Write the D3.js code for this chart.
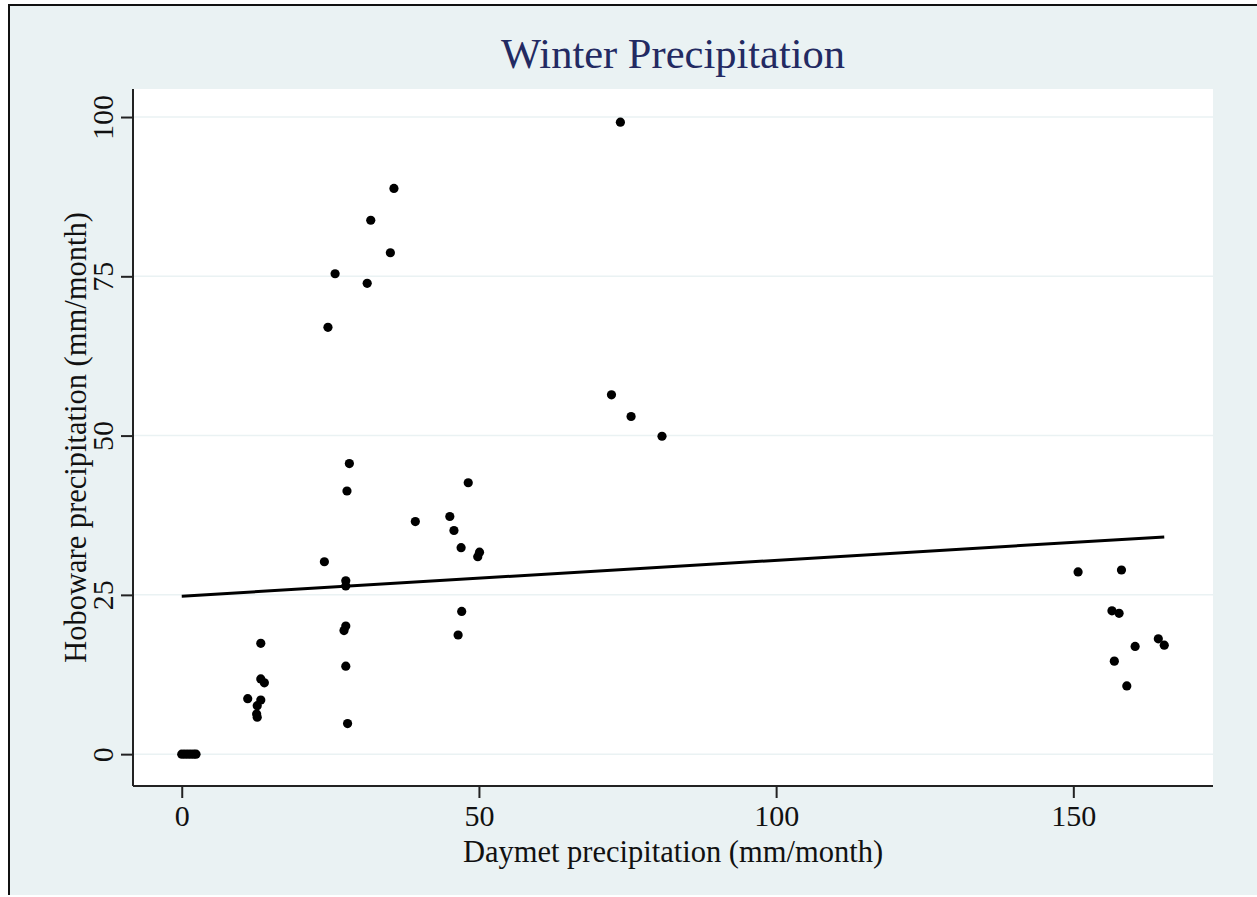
<!DOCTYPE html>
<html>
<head>
<meta charset="utf-8">
<script src="https://cdn.jsdelivr.net/npm/d3@7/dist/d3.min.js"></script>
<style>
  html, body { margin: 0; padding: 0; background: #ffffff; }
  svg { display: block; }
  text { font-family: "Liberation Serif", "Times New Roman", serif; }
</style>
</head>
<body>
<svg id="chart"></svg>
<script>
  // daymet (x) vs hoboware (y)
  var daymet = [
    0, 0.5, 1, 1.5, 2, 2.4,
    11.1, 12.6, 12.7, 12.7, 13.3, 13.3, 13.3, 13.9,
    24.0, 24.6, 25.8, 27.3, 27.6, 27.6, 27.6, 27.6, 27.8, 27.9, 28.2,
    31.2, 31.8, 35.1, 35.7, 39.3,
    45.1, 45.8, 46.5, 47.0, 47.1, 48.2, 49.8, 50.1,
    72.3, 73.8, 75.6, 80.8,
    150.8, 156.5, 156.9, 157.7, 158.1, 159.0, 160.4, 164.3, 165.3
  ];
  var hoboware = [
    0, 0, 0, 0, 0, 0,
    8.7, 6.3, 5.8, 7.6, 17.4, 11.8, 8.5, 11.2,
    30.2, 67.0, 75.4, 19.4, 20.1, 13.8, 27.2, 26.4, 41.3, 4.8, 45.6,
    73.9, 83.8, 78.7, 88.8, 36.5,
    37.3, 35.1, 18.7, 32.4, 22.4, 42.6, 31.0, 31.7,
    56.4, 99.2, 53.0, 49.9,
    28.6, 22.5, 14.6, 22.1, 28.9, 10.7, 16.9, 18.1, 17.1
  ];

  // fitted line end points
  var fitX = [0, 165.3];
  var fitY = [24.8, 34.1];

  var xTicks = [0, 50, 100, 150];
  var yTicks = [0, 25, 50, 75, 100];

  var width = 1257, height = 897;
  var plot = { left: 133, top: 89, right: 1213, bottom: 786 };

  var svg = d3.select("#chart").attr("width", width).attr("height", height);

  // outer frame (only top and left edge are visible in the crop)
  svg.append("rect").attr("x", 8).attr("y", 4).attr("width", width - 8).attr("height", 891).attr("fill", "#111111");
  svg.append("rect").attr("x", 10).attr("y", 6).attr("width", width - 10).attr("height", 889).attr("fill", "#eaf2f3");

  // plot region
  svg.append("rect")
    .attr("x", plot.left).attr("y", plot.top)
    .attr("width", plot.right - plot.left).attr("height", plot.bottom - plot.top)
    .attr("fill", "#ffffff");

  var x = d3.scaleLinear().domain([-8.2, 173.5]).range([plot.left, plot.right]);
  var y = d3.scaleLinear().domain([-5, 104.4]).range([plot.bottom, plot.top]);

  // gridlines
  svg.append("g").selectAll("line").data(yTicks).enter().append("line")
    .attr("x1", plot.left).attr("x2", plot.right)
    .attr("y1", function (d) { return y(d); })
    .attr("y2", function (d) { return y(d); })
    .attr("stroke", "#eaf2f3").attr("stroke-width", 1.5);

  // y axis
  var yAxis = svg.append("g")
    .attr("transform", "translate(" + plot.left + ",0)")
    .call(d3.axisLeft(y).tickValues(yTicks).tickSize(12).tickSizeOuter(0).tickPadding(0));
  yAxis.select(".domain").attr("stroke", "#222").attr("stroke-width", 2)
    .attr("d", "M0," + plot.top + "V" + plot.bottom);
  yAxis.selectAll(".tick line").attr("stroke", "#222").attr("stroke-width", 2);
  yAxis.selectAll(".tick text")
    .attr("x", null).attr("dy", null)
    .attr("transform", "translate(-20,0) rotate(-90)")
    .attr("text-anchor", "middle")
    .attr("fill", "#111")
    .style("font-size", "30px");

  // x axis
  var xAxis = svg.append("g")
    .attr("transform", "translate(0," + plot.bottom + ")")
    .call(d3.axisBottom(x).tickValues(xTicks).tickSize(12).tickSizeOuter(0).tickPadding(0));
  xAxis.select(".domain").attr("stroke", "#222").attr("stroke-width", 2)
    .attr("d", "M" + plot.left + ",0H" + plot.right);
  xAxis.selectAll(".tick line").attr("stroke", "#222").attr("stroke-width", 2);
  xAxis.selectAll(".tick text")
    .attr("y", 40).attr("dy", null)
    .attr("fill", "#111")
    .style("font-size", "30px");

  // fitted line
  var fit = fitX.map(function (d, i) { return [d, fitY[i]]; });
  svg.append("path")
    .datum(fit)
    .attr("d", d3.line().x(function (d) { return x(d[0]); }).y(function (d) { return y(d[1]); }))
    .attr("fill", "none").attr("stroke", "#000").attr("stroke-width", 3);

  // points
  svg.append("g").selectAll("circle").data(daymet).enter().append("circle")
    .attr("cx", function (d) { return x(d); })
    .attr("cy", function (d, i) { return y(hoboware[i]); })
    .attr("r", 4.6)
    .attr("fill", "#000");

  // titles
  svg.append("text")
    .attr("x", (plot.left + plot.right) / 2).attr("y", 68)
    .attr("text-anchor", "middle")
    .attr("fill", "#232a62")
    .style("font-size", "42.5px")
    .text("Winter Precipitation");

  svg.append("text")
    .attr("x", (plot.left + plot.right) / 2).attr("y", 862)
    .attr("text-anchor", "middle")
    .attr("fill", "#111")
    .style("font-size", "30.5px")
    .text("Daymet precipitation (mm/month)");

  svg.append("text")
    .attr("transform", "translate(86," + (plot.top + plot.bottom) / 2 + ") rotate(-90)")
    .attr("text-anchor", "middle")
    .attr("fill", "#111")
    .style("font-size", "30.5px")
    .text("Hoboware precipitation (mm/month)");
</script>
</body>
</html>
